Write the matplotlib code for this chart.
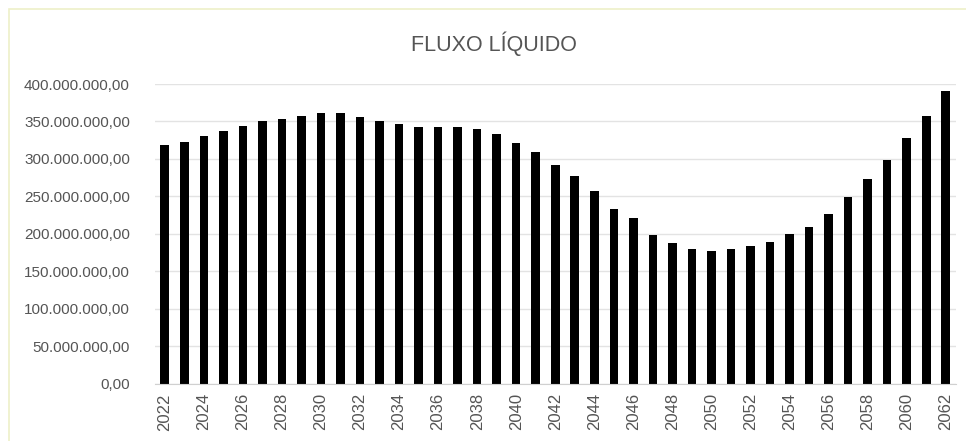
import matplotlib
matplotlib.use("Agg")
import matplotlib.pyplot as plt
from matplotlib.patches import Rectangle
from matplotlib.ticker import FuncFormatter

years = list(range(2022, 2063))
values_mi = [318.7, 323.0, 331.0, 337.8, 344.0, 350.7, 353.8, 357.0, 361.0, 361.0,
             355.6, 351.0, 347.0, 343.0, 343.0, 343.0, 340.0, 333.8, 321.8, 309.8,
             292.0, 276.9, 256.9, 232.9, 221.3, 197.8, 187.0, 179.0, 177.3, 179.0,
             183.0, 188.4, 199.0, 208.9, 226.2, 248.9, 272.9, 298.7, 328.0, 357.0,
             391.0]
values = [v * 1e6 for v in values_mi]
title = "FLUXO LÍQUIDO"
yticks = [i * 50e6 for i in range(9)]

W, H = 966, 441
fig = plt.figure(figsize=(W / 100, H / 100), dpi=100)
fig.patch.set_facecolor("white")
fig.patches.append(Rectangle((9 / W, -0.1), 1.2, (H - 9) / H + 0.1, transform=fig.transFigure,
                             fill=False, edgecolor="#eef0c8", linewidth=1.2))

left, right, bottom, top = 155 / W, 955.5 / W, 1 - 383.5 / H, 1 - 84 / H
ax = fig.add_axes([left, bottom, right - left, top - bottom])

ax.bar(years, values, width=0.44, color="black", zorder=3)
ax.set_xlim(years[0] - 0.5, years[-1] + 0.5)
ax.set_ylim(0, 400e6)
ax.set_yticks(yticks)

def fmt(v, pos):
    s = f"{v:,.2f}"
    return s.replace(",", "X").replace(".", ",").replace("X", ".")

ax.yaxis.set_major_formatter(FuncFormatter(fmt))
ax.set_xticks(years[::2])
ax.set_xticklabels([str(y) for y in years[::2]], rotation=90)

font = "Liberation Sans"
for lab in ax.get_yticklabels():
    lab.set_fontfamily(font)
    lab.set_fontsize(11)
    lab.set_color("#555555")
for lab in ax.get_xticklabels():
    lab.set_fontfamily(font)
    lab.set_fontsize(12)
    lab.set_color("#555555")

ax.tick_params(axis="y", length=0, pad=18)
ax.tick_params(axis="x", length=0, pad=7)
ax.grid(axis="y", color="#e3e3e3", linewidth=1, zorder=0)
for s in ["top", "right", "left"]:
    ax.spines[s].set_visible(False)
ax.spines["bottom"].set_color("#d0d0d0")
ax.spines["bottom"].set_zorder(4)

fig.text(494 / W, 1 - 44 / H, title, ha="center", va="center",
         fontsize=15.5, color="#555555", family=font)

fig.savefig("out.png", dpi=100)
